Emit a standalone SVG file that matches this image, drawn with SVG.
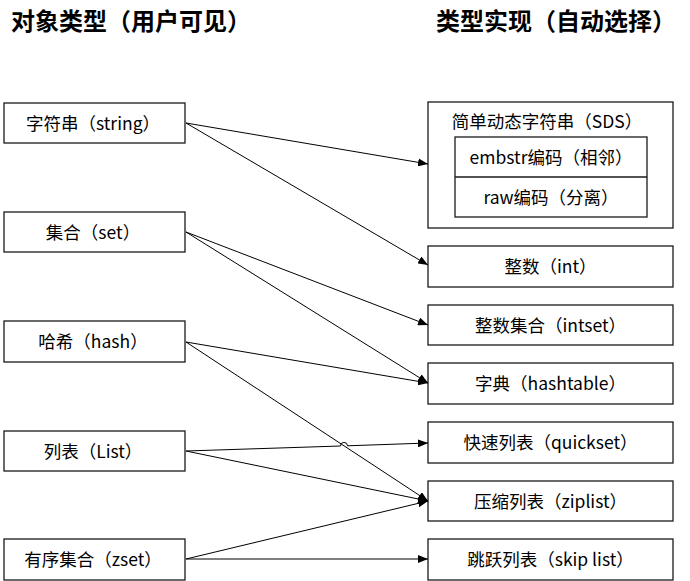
<svg xmlns="http://www.w3.org/2000/svg" width="690" height="581" viewBox="0 0 690 581">
<defs>
<marker id="arr" viewBox="0 0 10 8" refX="10" refY="4" markerWidth="10" markerHeight="8" markerUnits="userSpaceOnUse" orient="auto">
<path d="M0,0 L10,4 L0,8 Z" fill="#000"/>
</marker>
<style>
.box{fill:#fff;stroke:#1a1a1a;stroke-width:1.3}
.t{font-family:"Noto Sans CJK SC","Liberation Sans",sans-serif;font-size:17.5px;fill:#000;text-anchor:middle;dominant-baseline:central}
.h{font-family:"Noto Sans CJK SC","Liberation Sans",sans-serif;font-size:24px;font-weight:bold;fill:#000}
.c{fill:none;stroke:#000;stroke-width:1;marker-end:url(#arr)}
</style>
</defs>
<rect width="690" height="581" fill="#fff"/>
<text class="h" x="11" y="30">对象类型（用户可见）</text>
<text class="h" x="436" y="30">类型实现（自动选择）</text>

<g id="n-string"><rect class="box" x="4" y="103" width="181" height="40"/><text class="t" x="93" y="122">字符串（string）</text></g>
<g id="n-set"><rect class="box" x="4" y="212" width="181" height="40"/><text class="t" x="93" y="231">集合（set）</text></g>
<g id="n-hash"><rect class="box" x="4" y="321" width="181" height="41"/><text class="t" x="93" y="340.5">哈希（hash）</text></g>
<g id="n-list"><rect class="box" x="4" y="431" width="181" height="40"/><text class="t" x="93" y="450">列表（List）</text></g>
<g id="n-zset"><rect class="box" x="4" y="539" width="181" height="41"/><text class="t" x="93" y="558.5">有序集合（zset）</text></g>

<g id="n-sds">
<rect class="box" x="428" y="102" width="245" height="126"/>
<text class="t" x="547" y="120">简单动态字符串（SDS）</text>
<rect class="box" x="455" y="137" width="192" height="80"/>
<line x1="455" y1="177" x2="647" y2="177" stroke="#1a1a1a" stroke-width="1.3"/>
<text class="t" x="551" y="156">embstr编码（相邻）</text>
<text class="t" x="551" y="196">raw编码（分离）</text>
</g>
<g id="n-int"><rect class="box" x="428" y="246" width="245" height="41"/><text class="t" x="550.5" y="265.5">整数（int）</text></g>
<g id="n-intset"><rect class="box" x="428" y="305" width="245" height="40"/><text class="t" x="550.5" y="324">整数集合（intset）</text></g>
<g id="n-hashtable"><rect class="box" x="428" y="363" width="245" height="41"/><text class="t" x="550.5" y="382.5">字典（hashtable）</text></g>
<g id="n-quicklist"><rect class="box" x="428" y="422" width="245" height="41"/><text class="t" x="550.5" y="441.5">快速列表（quickset）</text></g>
<g id="n-ziplist"><rect class="box" x="428" y="481" width="245" height="40"/><text class="t" x="550.5" y="500">压缩列表（ziplist）</text></g>
<g id="n-skiplist"><rect class="box" x="428" y="539" width="245" height="41"/><text class="t" x="550.5" y="558.5">跳跃列表（skip list）</text></g>

<g id="connectors">
<path class="c" d="M186,123 L428,164"/>
<path class="c" d="M186,123 L428,265"/>
<path class="c" d="M186,232 L428,325"/>
<path class="c" d="M186,232 L428,383"/>
<path class="c" d="M186,342 L428,383"/>
<path class="c" d="M186,342 L428,501"/>
<path class="c" d="M186,451 L340.5,446 A3.3,3.3 0 0 1 347.5,445.8 L428,443"/>
<path class="c" d="M186,451 L428,501"/>
<path class="c" d="M186,559 L428,501"/>
<path class="c" d="M186,559 L428,559"/>
</g>
</svg>
